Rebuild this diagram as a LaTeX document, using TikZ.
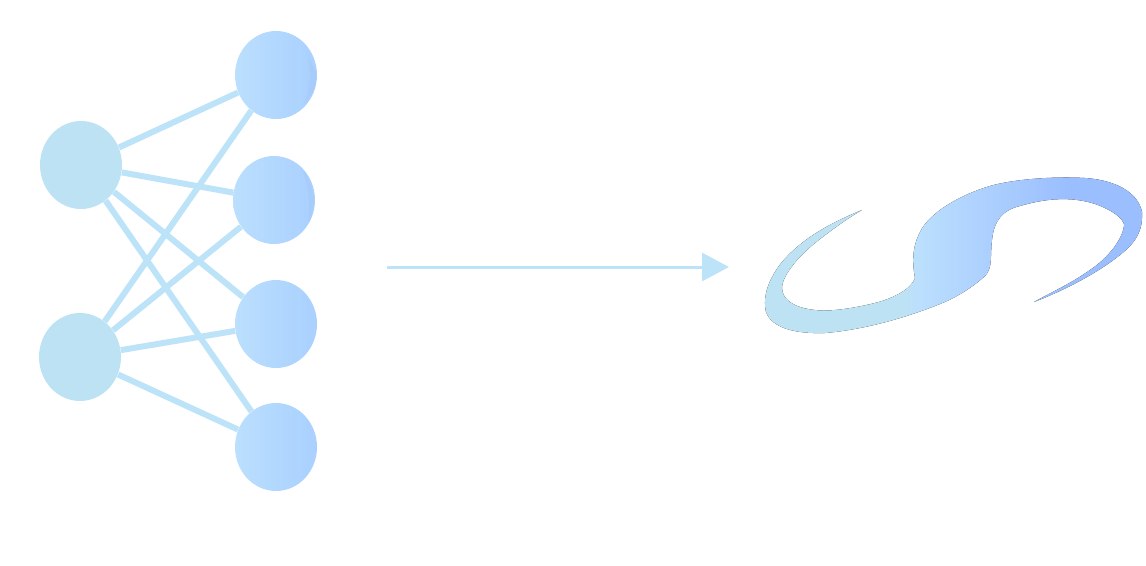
\documentclass[tikz,border=0pt]{standalone}
\usetikzlibrary{shapes.geometric,arrows.meta}
\definecolor{lightb}{HTML}{BDE2F4}
\definecolor{midb}{HTML}{BBDFFD}
\definecolor{rightb}{HTML}{A9D0FF}
\definecolor{deepb}{HTML}{9BBEFF}
\definecolor{linkb}{HTML}{BDE3F8}
\definecolor{streakb}{HTML}{A6C4F2}
\pgfdeclarehorizontalshading{sshade}{100bp}{color(0bp)=(lightb); color(43.6bp)=(lightb); color(45.6bp)=(midb); color(65bp)=(deepb); color(100bp)=(deepb)}
\tikzset{
  x=0.02cm,y=-0.02cm,
  inputnode/.style={ellipse,inner sep=0pt,minimum width=1.64cm,minimum height=1.76cm,fill=lightb},
  outputnode/.style={ellipse,inner sep=0pt,minimum width=1.64cm,minimum height=1.76cm,left color=midb,right color=rightb},
  link/.style={draw=linkb,line width=0.12cm},
  flow/.style={draw=linkb,line width=0.06cm,-{Triangle[length=0.54cm,width=0.56cm,fill=linkb]}},
  streak/.style={fill=streakb,opacity=0.35}
}
\begin{document}
\begin{tikzpicture}
\useasboundingbox (0,0) rectangle (1146,565);
\node[inputnode] (a) at (81,165) {};
\node[inputnode] (b) at (80,357) {};
\node[outputnode] (p) at (276,75) {};
\node[outputnode] (q) at (274,200) {};
\node[outputnode] (r) at (276,324) {};
\node[outputnode] (s) at (276,447) {};
\foreach \u in {a,b}\foreach \v in {p,q,r,s}{\draw[link] (\u) -- (\v);}
\fill[streak] (308,58) .. controls (320,72) and (318,90) .. (304,104) .. controls (310,88) and (311,72) .. (308,58) -- cycle;
\fill[streak] (302,170) .. controls (316,185) and (316,210) .. (308,222) .. controls (310,205) and (309,185) .. (302,170) -- cycle;
\coordinate (start) at (387,267);
\coordinate (end) at (729,267);
\draw[flow] (start) -- (end);
\fill[shading=sshade]
  (862,210) .. controls (838,220) and (805,235) .. (782,262)
  .. controls (770,277) and (762,295) .. (766,312)
  .. controls (772,328) and (795,334) .. (825,333)
  .. controls (860,330) and (900,320) .. (940,304)
  .. controls (960,296) and (975,285) .. (985,276)
  .. controls (993,268) and (990,255) .. (992,240)
  .. controls (994,220) and (1003,210) .. (1020,206)
  .. controls (1050,197) and (1080,196) .. (1105,208)
  .. controls (1118,214) and (1125,222) .. (1124,226)
  .. controls (1122,240) and (1108,258) .. (1090,270)
  .. controls (1072,283) and (1050,293) .. (1034,302)
  .. controls (1060,292) and (1095,275) .. (1120,255)
  .. controls (1135,243) and (1143,232) .. (1142,212)
  .. controls (1138,192) and (1115,180) .. (1085,178)
  .. controls (1050,176) and (1010,180) .. (990,186)
  .. controls (960,195) and (930,212) .. (920,232)
  .. controls (912,248) and (912,262) .. (915,278)
  .. controls (912,288) and (895,298) .. (875,303)
  .. controls (855,308) and (830,312) .. (815,310)
  .. controls (795,308) and (782,300) .. (782,288)
  .. controls (782,275) and (800,255) .. (815,243)
  .. controls (830,231) and (848,218) .. (862,210) -- cycle;
\end{tikzpicture}
\end{document}
